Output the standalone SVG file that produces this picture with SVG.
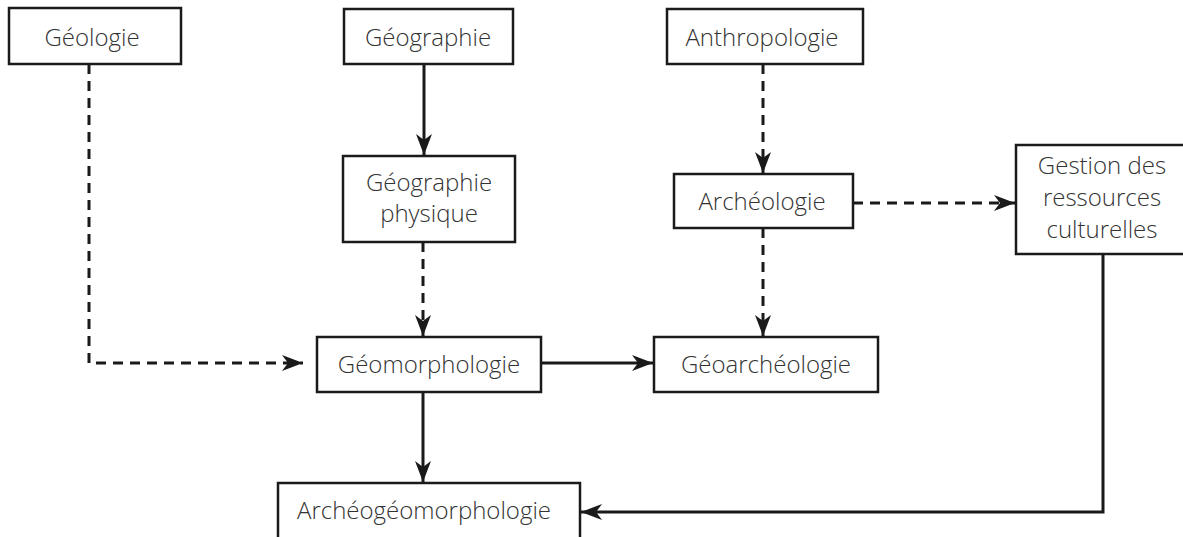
<svg xmlns="http://www.w3.org/2000/svg" width="1183" height="537" viewBox="0 0 1183 537">
<style>
.box{fill:#fff;stroke:#1a1a1a;stroke-width:2.5}
.t{font-family:"Open Sans","Noto Sans",sans-serif;font-size:24px;font-weight:300;fill:#333;text-anchor:middle}
.c{fill:none;stroke:#1a1a1a;stroke-width:3}
.d{stroke-dasharray:10 7}
</style>
<defs>
<marker id="ah" markerUnits="userSpaceOnUse" markerWidth="24" markerHeight="18" refX="21" refY="8" orient="auto">
<path d="M0,0 L21,8 L0,16 L6,8 Z" fill="#1a1a1a"/>
</marker>
</defs>
<g id="connectors">
<path class="c d" d="M89,64 V363 H303" marker-end="url(#ah)"/>
<path class="c" d="M424,64 V155" marker-end="url(#ah)"/>
<path class="c d" d="M423,242 V336" marker-end="url(#ah)"/>
<path class="c d" d="M763,64 V173" marker-end="url(#ah)"/>
<path class="c d" d="M763,228 V336" marker-end="url(#ah)"/>
<path class="c d" d="M853,203 H1015" marker-end="url(#ah)"/>
<path class="c" d="M541,363 H653" marker-end="url(#ah)"/>
<path class="c" d="M423,392 V482" marker-end="url(#ah)"/>
<path class="c" d="M1103,254 V512 H581" marker-end="url(#ah)"/>
</g>
<g id="geologie"><rect class="box" x="9" y="8" width="172" height="56"/><text class="t" x="92" y="46">Géologie</text></g>
<g id="geographie"><rect class="box" x="344" y="9" width="169" height="55"/><text class="t" x="428" y="46">Géographie</text></g>
<g id="anthropologie"><rect class="box" x="667" y="9" width="196" height="55"/><text class="t" x="762" y="46">Anthropologie</text></g>
<g id="geographie-physique"><rect class="box" x="343" y="156" width="172" height="86"/><text class="t" x="429" y="191">Géographie</text><text class="t" x="429" y="222">physique</text></g>
<g id="archeologie"><rect class="box" x="674" y="174" width="179" height="54"/><text class="t" x="762" y="210">Archéologie</text></g>
<g id="gestion"><rect class="box" x="1016" y="145" width="174" height="109"/><text class="t" x="1102" y="174">Gestion des</text><text class="t" x="1102" y="206">ressources</text><text class="t" x="1102" y="238">culturelles</text></g>
<g id="geomorphologie"><rect class="box" x="317" y="337" width="224" height="55"/><text class="t" x="429" y="373">Géomorphologie</text></g>
<g id="geoarcheologie"><rect class="box" x="654" y="337" width="224" height="55"/><text class="t" x="766" y="373">Géoarchéologie</text></g>
<g id="archeogeomorphologie"><rect class="box" x="278" y="483" width="302" height="62"/><text class="t" x="424" y="519">Archéogéomorphologie</text></g>
</svg>
